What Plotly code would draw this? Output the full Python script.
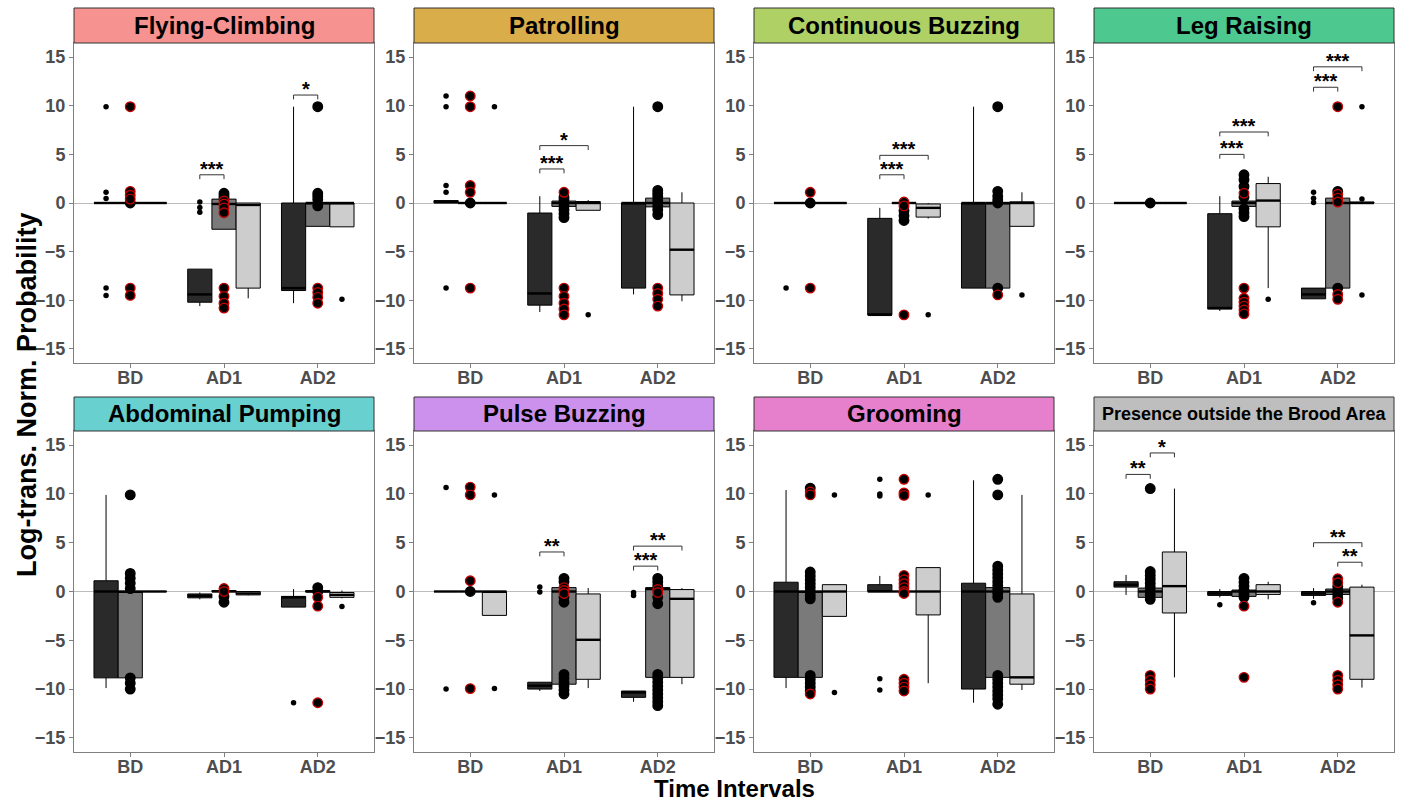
import plotly.graph_objects as go

# ---------------- data ----------------
CATEGORIES = ["BD", "AD1", "AD2"]
GROUPS = ["dark", "mid", "light"]
PANELS = ["Flying-Climbing", "Patrolling", "Continuous Buzzing", "Leg Raising",
          "Abdominal Pumping", "Pulse Buzzing", "Grooming",
          "Presence outside the Brood Area"]
STRIP_COLORS = ["#F6928F", "#D8AD4A", "#AFD064", "#4DC98F",
                "#68D0CF", "#CB91EC", "#E680CC", "#BEBEBE"]

# rows = dark, mid, light ; columns = BD, AD1, AD2
fc_q1 = [[0, -10.2, -9.0], [0, -2.7, -2.4], [0, -8.75, -2.45]]
fc_med = [[0, -9.4, -8.75], [0, -0.1, 0], [0, -0.2, 0]]
fc_q3 = [[0, -6.8, 0], [0, 0.4, 0], [0, 0, 0]]
fc_lo = [[0, -10.6, -10.3], [0, -2.7, -2.4], [0, -9.8, -2.45]]
fc_hi = [[0, -6.8, 9.9], [0, 0.4, 0], [0, 0, 0]]

pa_q1 = [[0, -10.5, -8.75], [0, -0.35, -0.4], [0, -0.75, -9.45]]
pa_med = [[0.1, -9.3, 0], [0, 0, 0], [0, 0, -4.8]]
pa_q3 = [[0.25, -1.03, 0], [0, 0.2, 0.5], [0, 0.15, 0]]
pa_lo = [[0, -11.2, -9.4], [0, -0.35, -0.4], [0, -0.75, -10.1]]
pa_hi = [[0.25, 0.7, 9.9], [0, 0.2, 0.5], [0, 0.3, 1.1]]

cb_q1 = [[0, -11.5, -8.75], [0, 0, -8.75], [0, -1.45, -2.4]]
cb_med = [[0, -11.5, 0], [0, 0, 0], [0, -0.5, 0]]
cb_q3 = [[0, -1.58, 0], [0, 0, 0], [0, -0.1, 0.12]]
cb_lo = [[0, -11.5, -8.75], [0, 0, -8.75], [0, -1.6, -2.4]]
cb_hi = [[0, -0.5, 9.9], [0, 0, 0], [0, 0, 1.1]]

lr_q1 = [[0, -10.9, -9.85], [0, -0.35, -8.75], [0, -2.45, 0]]
lr_med = [[0, -10.8, -9.4], [0, 0, 0], [0, 0.25, 0]]
lr_q3 = [[0, -1.1, -8.75], [0, 0.2, 0.5], [0, 2.0, 0.1]]
lr_lo = [[0, -11.1, -9.85], [0, -0.35, -8.75], [0, -8.75, 0]]
lr_hi = [[0, 0.7, -8.75], [0, 0.2, 0.5], [0, 2.7, 0.1]]

ap_q1 = [[-8.85, -0.65, -1.6], [-8.85, 0, -0.05], [0, -0.35, -0.6]]
ap_med = [[0, -0.45, -0.6], [0, 0, 0], [0, -0.2, -0.35]]
ap_q3 = [[1.1, -0.25, -0.5], [0, 0.1, 0.1], [0, 0, -0.1]]
ap_lo = [[-9.9, -0.8, -1.6], [-8.85, 0, -0.05], [0, -0.4, -0.7]]
ap_hi = [[9.9, -0.1, 0.25], [0, 0.1, 0.1], [0, 0, 0.1]]

pb_q1 = [[0, -10.0, -10.85], [0, -9.5, -8.8], [-2.45, -9.0, -8.8]]
pb_med = [[0, -9.65, -10.35], [0, 0, 0.25], [0, -4.95, -0.75]]
pb_q3 = [[0, -9.3, -10.2], [0, 0.4, 0.4], [0, -0.25, 0.2]]
pb_lo = [[0, -10.2, -11.3], [0, -9.5, -8.8], [-2.45, -9.9, -9.5]]
pb_hi = [[0, -9.3, -10.2], [0, 0.4, 0.4], [0, 0.35, 0.35]]

gr_q1 = [[-8.8, 0, -10.0], [-8.8, 0, -8.8], [-2.55, -2.4, -9.5]]
gr_med = [[0, 0, 0], [0, 0, 0], [0, 0, -8.8]]
gr_q3 = [[0.95, 0.7, 0.85], [0, 0, 0.4], [0.7, 2.45, -0.25]]
gr_lo = [[-9.9, 0, -11.4], [-8.8, 0, -8.8], [-2.55, -9.4, -10.1]]
gr_hi = [[10.4, 1.6, 11.4], [0, 0, 0.4], [0.7, 2.45, 9.9]]

po_q1 = [[0.45, -0.4, -0.4], [-0.6, -0.5, -0.3], [-2.2, -0.3, -9.0]]
po_med = [[0.7, -0.2, -0.2], [0, 0, 0], [0.55, 0, -4.5]]
po_q3 = [[1.0, 0, 0], [0.35, 0.15, 0.25], [4.05, 0.7, 0.45]]
po_lo = [[-0.35, -0.6, -0.75], [-0.6, -0.5, -0.3], [-8.8, -0.8, -9.85]]
po_hi = [[1.7, 0.25, 0.35], [0.35, 0.15, 0.25], [10.55, 1.0, 0.7]]

# outliers: (group, category, values)
fc_small = [("dark", "BD", [9.9, 1.1, 0.45, -8.75, -9.5]), ("dark", "AD1", [0.1, -0.45, -0.95]),
            ("light", "AD2", [-9.9])]
fc_black = [("BD", [0]), ("AD1", [1.0, 0.75, 0.5]), ("AD2", [9.9, 1.0, 0.7, 0.35, -0.3])]
fc_red = [("BD", [9.9, 1.2, 0.8, 0.4, -8.75, -9.5]),
          ("AD1", [0.2, -0.1, -0.5, -1.0, -8.75, -9.6, -10.3, -10.8]),
          ("AD2", [-8.75, -9.2, -9.7, -10.3])]

pa_small = [("dark", "BD", [11.0, 9.9, 1.8, 1.1, -8.75]), ("light", "BD", [9.9]),
            ("light", "AD1", [-11.5])]
pa_black = [("BD", [0]), ("AD1", [0.6, 0.3, -0.3, -0.7, -1.1, -1.5]),
            ("AD2", [9.9, 1.3, 1.0, 0.7, 0.3, -0.3, -0.7, -1.2])]
pa_red = [("BD", [11.0, 9.9, 1.8, 1.1, -8.75]), ("AD1", [1.1, -8.75, -9.6, -10.3, -10.9, -11.5]),
          ("AD2", [-8.75, -9.3, -9.9, -10.6])]

cb_small = [("dark", "BD", [-8.75]), ("light", "AD1", [-11.5]), ("light", "AD2", [-9.45])]
cb_black = [("BD", [0]), ("AD1", [-0.8, -1.3, -1.8]), ("AD2", [9.9, 1.2, 0.7, 0.3, 0, -8.75])]
cb_red = [("BD", [1.1, -8.75]), ("AD1", [0.1, -0.3, -11.5]), ("AD2", [-9.45])]

lr_small = [("dark", "AD2", [1.1, 0.5, 0.05]), ("light", "AD1", [-9.9]),
            ("light", "AD2", [9.9, 0.4, -9.45])]
lr_black = [("BD", [0]), ("AD1", [2.9, 2.4, 1.7, 0.6, -0.6, -1.0, -1.4]), ("AD2", [1.2, -8.75])]
lr_red = [("AD1", [1.0, -8.75, -9.8, -10.2, -10.6, -11.0, -11.4]),
          ("AD2", [9.9, 0.9, 0.5, 0.1, -9.4, -9.9])]

ap_small = [("dark", "AD2", [-11.4]), ("light", "AD2", [-1.55])]
ap_black = [("BD", [9.9, 1.85, 1.35, 0.85, 0.3, -8.85, -9.4, -10.0]), ("AD1", [-0.5, -1.1]),
            ("AD2", [0.4, 0])]
ap_red = [("AD1", [0.3, 0]), ("AD2", [-0.6, -1.5, -11.4])]

pb_small = [("dark", "BD", [10.65, -10.0]), ("light", "BD", [9.9, -9.95]),
            ("dark", "AD1", [0.45, -0.05]), ("dark", "AD2", [-0.1, -0.4])]
pb_black = [("BD", [0]), ("AD1", [1.35, 1.0, -0.6, -1.1, -8.5, -8.9, -9.3, -9.7, -10.1, -10.5]),
            ("AD2", [1.35, 1.0, 0.6, -0.6, -1.25, -8.5, -8.9, -9.3, -9.7, -10.1, -10.5,
                     -10.9, -11.3, -11.7])]
pb_red = [("BD", [10.7, 9.9, 1.1, -9.95]), ("AD1", [0.4, 0.1, -0.2]), ("AD2", [0.2, -0.1])]

gr_small = [("light", "BD", [9.9, -10.35]), ("dark", "AD1", [11.5, 10.0, 9.8, -8.95, -10.1]),
            ("light", "AD1", [9.9])]
gr_black = [("BD", [10.6, 2.0, 1.6, 1.2, 0.8, 0.4, 0, -0.4, -0.75, -8.6, -9.0, -9.4, -9.8, -10.2]),
            ("AD2", [11.5, 9.9, 2.6, 2.2, 1.8, 1.4, 1.0, 0.6, 0.2, -0.2, -0.6, -8.6, -9.0,
                     -9.4, -9.8, -10.2, -10.6, -11.0, -11.55])]
gr_red = [("BD", [10.2, 9.9, -10.5]),
          ("AD1", [11.5, 10.1, 9.85, 1.65, 1.2, 0.8, 0.4, 0, -0.2, -9.0, -9.4, -9.8, -10.2])]

po_small = [("dark", "AD1", [-1.35]), ("dark", "AD2", [-1.15])]
po_black = [("BD", [10.55, 2.05, 1.65, 1.25, 0.85, 0.45, 0.05, -0.35, -0.8]),
            ("AD1", [1.35, 0.95, 0.55, 0.15, -0.25, -0.6]), ("AD2", [0.5, 0.1, -0.3, -0.7])]
po_red = [("BD", [-8.6, -9.1, -9.55, -10.0]), ("AD1", [-1.5, -8.8]),
          ("AD2", [1.3, 0.9, -1.1, -8.6, -9.1, -9.55, -10.0])]

# significance brackets: (category, group1, group2, y, label)
fc_sig = [("AD1", "dark", "mid", 2.9, "***"), ("AD2", "dark", "mid", 11.1, "*")]
pa_sig = [("AD1", "dark", "mid", 3.5, "***"), ("AD1", "dark", "light", 5.9, "*")]
cb_sig = [("AD1", "dark", "mid", 2.9, "***"), ("AD1", "dark", "light", 4.9, "***")]
lr_sig = [("AD1", "dark", "mid", 5.0, "***"), ("AD1", "dark", "light", 7.3, "***"),
          ("AD2", "dark", "mid", 11.9, "***"), ("AD2", "dark", "light", 14.0, "***")]
ap_sig = []
pb_sig = [("AD1", "dark", "mid", 4.05, "**"), ("AD2", "dark", "mid", 2.6, "***"),
          ("AD2", "dark", "light", 4.65, "**")]
gr_sig = []
po_sig = [("BD", "dark", "mid", 12.0, "**"), ("BD", "mid", "light", 14.2, "*"),
          ("AD2", "dark", "light", 5.0, "**"), ("AD2", "mid", "light", 3.0, "**")]

PANEL_DATA = [
    (fc_q1, fc_med, fc_q3, fc_lo, fc_hi, fc_small, fc_black, fc_red, fc_sig),
    (pa_q1, pa_med, pa_q3, pa_lo, pa_hi, pa_small, pa_black, pa_red, pa_sig),
    (cb_q1, cb_med, cb_q3, cb_lo, cb_hi, cb_small, cb_black, cb_red, cb_sig),
    (lr_q1, lr_med, lr_q3, lr_lo, lr_hi, lr_small, lr_black, lr_red, lr_sig),
    (ap_q1, ap_med, ap_q3, ap_lo, ap_hi, ap_small, ap_black, ap_red, ap_sig),
    (pb_q1, pb_med, pb_q3, pb_lo, pb_hi, pb_small, pb_black, pb_red, pb_sig),
    (gr_q1, gr_med, gr_q3, gr_lo, gr_hi, gr_small, gr_black, gr_red, gr_sig),
    (po_q1, po_med, po_q3, po_lo, po_hi, po_small, po_black, po_red, po_sig),
]

# ---------------- style ----------------
W, H = 1401, 803
FONT = "Liberation Sans, Arial, sans-serif"
FILL = {"dark": "#2A2A2A", "mid": "#7A7A7A", "light": "#CDCDCD"}
OFFSET = {"dark": -0.258, "mid": 0.0, "light": 0.258}
BOX_W = 0.258
AXIS_GREY = "#7F7F7F"
YRANGE = [-16.45, 16.45]

fig = go.Figure()
shapes = []
annotations = []

for k, (name, data) in enumerate(zip(PANELS, PANEL_DATA)):
    q1, med, q3, lo, hi, small, black, red, sig = data
    row, col = divmod(k, 4)
    n = "" if k == 0 else str(k + 1)
    xa, ya = "x" + n, "y" + n
    x0p, x1p = 74 + 340 * col, 374 + 340 * col
    top_px, bot_px = (43, 363) if row == 0 else (431, 752)
    xdom = [x0p / W, x1p / W]
    ydom = [1 - bot_px / H, 1 - top_px / H]

    fig.layout["xaxis" + n] = dict(
        domain=xdom, anchor=ya, range=[-0.6, 2.6], tickvals=[0, 1, 2], ticktext=CATEGORIES,
        showline=True, mirror=True, linecolor=AXIS_GREY, linewidth=1, showgrid=False,
        zeroline=False, ticks="outside", ticklen=4, tickcolor=AXIS_GREY,
        ticklabelstandoff=-6,
        tickfont=dict(family=FONT, size=18, color="#4D4D4D", weight="bold"), fixedrange=True)
    fig.layout["yaxis" + n] = dict(
        domain=ydom, anchor=xa, range=YRANGE, tickvals=[-15, -10, -5, 0, 5, 10, 15],
        showline=True, mirror=True, linecolor=AXIS_GREY, linewidth=1, showgrid=False,
        zeroline=True, zerolinecolor="#BDBDBD", zerolinewidth=1,
        ticks="outside", ticklen=4, tickcolor=AXIS_GREY,
        tickfont=dict(family=FONT, size=18, color="#4D4D4D", weight="bold"), fixedrange=True)

    # strip
    s_top = 8 if row == 0 else 397
    shapes.append(dict(type="rect", xref="paper", yref="paper",
                       x0=xdom[0], x1=xdom[1], y0=1 - top_px / H, y1=1 - s_top / H,
                       fillcolor=STRIP_COLORS[k], line=dict(color="#333333", width=1)))
    annotations.append(dict(text=name, xref="paper", yref="paper",
                            x=(xdom[0] + xdom[1]) / 2, y=1 - (s_top + top_px) / 2 / H,
                            xanchor="center", yanchor="middle", showarrow=False,
                            font=dict(family=FONT, size=18 if len(name) > 20 else 24,
                                      color="black", weight="bold")))

    # boxes
    for gi, g in enumerate(GROUPS):
        xs = [i + OFFSET[g] for i in range(len(CATEGORIES))]
        fig.add_trace(go.Box(
            x=xs, q1=q1[gi], median=med[gi], q3=q3[gi], lowerfence=lo[gi], upperfence=hi[gi],
            width=BOX_W, fillcolor=FILL[g], line=dict(color="black", width=1),
            whiskerwidth=0, boxpoints=False, xaxis=xa, yaxis=ya, hoverinfo="skip",
            showlegend=False))
    # thick median lines
    mx, my = [], []
    for gi, g in enumerate(GROUPS):
        for i in range(len(CATEGORIES)):
            c = i + OFFSET[g]
            mx += [c - BOX_W / 2, c + BOX_W / 2, None]
            my += [med[gi][i], med[gi][i], None]
    fig.add_trace(go.Scatter(x=mx, y=my, mode="lines", line=dict(color="black", width=2.4),
                             xaxis=xa, yaxis=ya, hoverinfo="skip", showlegend=False))

    # small outliers
    sx, sy = [], []
    for g, cat, vals in small:
        c = CATEGORIES.index(cat) + OFFSET[g]
        sx += [c] * len(vals)
        sy += vals
    fig.add_trace(go.Scatter(x=sx, y=sy, mode="markers",
                             marker=dict(color="black", size=5.5, line=dict(width=0)),
                             xaxis=xa, yaxis=ya, hoverinfo="skip", showlegend=False))
    # big points (mid group)
    for pts, edge in ((black, "black"), (red, "#C40000")):
        bx, by = [], []
        for cat, vals in pts:
            c = CATEGORIES.index(cat) + OFFSET["mid"]
            bx += [c] * len(vals)
            by += vals
        fig.add_trace(go.Scatter(x=bx, y=by, mode="markers",
                                 marker=dict(color="black", size=9.5,
                                             line=dict(color=edge, width=1.4)),
                                 xaxis=xa, yaxis=ya, hoverinfo="skip", showlegend=False))

    # significance brackets
    for cat, g1, g2, yv, lab in sig:
        ci = CATEGORIES.index(cat)
        xa1, xa2 = ci + OFFSET[g1], ci + OFFSET[g2]
        d = 0.45
        shapes.append(dict(type="path", xref=xa, yref=ya,
                           path=f"M {xa1} {yv - d} L {xa1} {yv} L {xa2} {yv} L {xa2} {yv - d}",
                           line=dict(color="#333333", width=1)))
        annotations.append(dict(text=lab, xref=xa, yref=ya, x=(xa1 + xa2) / 2, y=yv,
                                xanchor="center", yanchor="bottom", yshift=-7, showarrow=False,
                                font=dict(family=FONT, size=20, color="black", weight="bold")))

annotations.append(dict(text="Time Intervals", xref="paper", yref="paper",
                        x=734 / W, y=0, xanchor="center", yanchor="bottom", yshift=0,
                        borderpad=0, showarrow=False,
                        font=dict(family=FONT, size=24, color="black", weight="bold")))
annotations.append(dict(text="Log-trans. Norm. Probability", xref="paper", yref="paper",
                        x=27 / W, y=1 - 395 / H, xanchor="center", yanchor="middle",
                        textangle=-90, showarrow=False,
                        font=dict(family=FONT, size=27, color="black", weight="bold")))

fig.update_layout(width=W, height=H, margin=dict(l=0, r=0, t=0, b=0),
                  paper_bgcolor="white", plot_bgcolor="white", boxmode="overlay",
                  shapes=shapes, annotations=annotations, showlegend=False)

fig.write_html("out.html", config={"displayModeBar": False},
               post_script="document.body.style.margin='0px';"
                           "document.body.style.overflow='hidden';")
